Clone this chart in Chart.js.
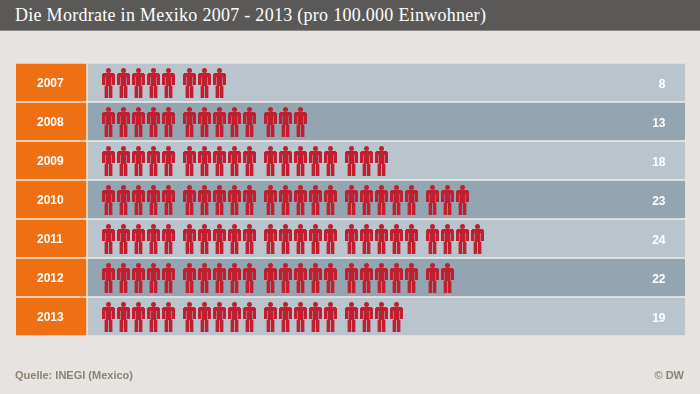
<!DOCTYPE html>
<html lang="de">
<head>
<meta charset="utf-8">
<title>Die Mordrate in Mexiko</title>
<script src="https://cdn.jsdelivr.net/npm/chart.js@4"></script>
<style>
    html, body { margin: 0; padding: 0; }
    body { position: relative; width: 700px; height: 394px; background: #e6e3e0; overflow: hidden; }
    #title {
        position: absolute; left: 0; top: 0; width: 685px; height: 30px; padding-left: 15px;
        background: #5a5957; border-bottom: 1px solid #8a8987; color: #fff;
        font: 18px/30px "Liberation Serif", serif; letter-spacing: 0.28px;
    }
    .note { position: absolute; top: 368px; font: bold 11px/14px "Liberation Sans", sans-serif; color: #8c8375; }
    canvas { position: absolute; left: 0; top: 0; }
</style>
</head>
<body>
<canvas id="chart" width="700" height="394"></canvas>
<div id="title">Die Mordrate in Mexiko 2007 - 2013 (pro 100.000 Einwohner)</div>
<div class="note" style="left:15px">Quelle: INEGI (Mexico)</div>
<div class="note" style="right:16px">© DW</div>
<script>
const years = ["2007", "2008", "2009", "2010", "2011", "2012", "2013"];
const murderRates = [8, 13, 18, 23, 24, 22, 19];

// x axis unit is one person, 15px wide
const xMin = -4.8;
const xMax = 39.8;
const firstPerson = 20.5 / 15;
const groupSize = 5;
const groupGap = 0.4;

const makePerson = () => {
    const c = document.createElement("canvas");
    c.width = 13;
    c.height = 31;
    const g = c.getContext("2d");
    g.fillStyle = "#c01f2f";
    g.beginPath();
    g.arc(6.5, 3.5, 2.5, 0, Math.PI * 2);
    g.fill();
    g.fillRect(1, 6, 11, 1);
    g.fillRect(0, 7, 13, 12);
    g.clearRect(3, 10, 1, 9);
    g.clearRect(9, 10, 1, 9);
    g.clearRect(0, 18, 3, 1);
    g.clearRect(10, 18, 3, 1);
    g.globalAlpha = 0.5;
    g.fillRect(3, 10, 1, 9);
    g.fillRect(9, 10, 1, 9);
    g.globalAlpha = 1;
    g.fillRect(2.6, 19, 3.4, 12);
    g.fillRect(7, 19, 3.4, 12);
    g.globalAlpha = 0.25;
    g.fillRect(6, 19, 1, 12);
    return c;
};

const people = [];
murderRates.forEach((rate, row) => {
    for (let i = 0; i < rate; i++) {
        people.push({ x: firstPerson + i + groupGap * Math.floor(i / groupSize), y: years[row] });
    }
});

const rowLabels = {
    id: "row-labels",
    beforeDatasetsDraw(chart) {
        const { ctx, chartArea: a } = chart;
        ctx.save();
        ctx.fillStyle = "#efedea";
        ctx.fillRect(a.left, a.top + 1, a.right - a.left, a.bottom - a.top - 2);
        ctx.restore();
    },
    afterDatasetsDraw(chart) {
        const { ctx, scales: { x, y } } = chart;
        ctx.save();
        ctx.fillStyle = "#fff";
        ctx.font = 'bold 12px "Liberation Sans", sans-serif';
        ctx.textAlign = "right";
        ctx.textBaseline = "middle";
        murderRates.forEach((rate, row) => {
            ctx.fillText(rate, x.getPixelForValue(38.5), y.getPixelForValue(row) + 2);
        });
        ctx.restore();
    },
};

new Chart(document.getElementById("chart"), {
    data: {
        labels: years,
        datasets: [
            {
                type: "scatter",
                data: people,
                pointStyle: makePerson(),
                order: 0,
            },
            {
                type: "bar",
                data: years.map(() => [xMin, -0.133]),
                backgroundColor: "#ee7013",
                barThickness: 37,
                grouped: false,
                order: 1,
            },
            {
                type: "bar",
                data: years.map(() => [0, xMax]),
                backgroundColor: years.map((_, i) => (i % 2 ? "#93a5b0" : "#b9c4cd")),
                barThickness: 37,
                grouped: false,
                order: 2,
            },
        ],
    },
    options: {
        indexAxis: "y",
        responsive: false,
        animation: false,
        layout: { padding: { left: 16, right: 15, top: 63, bottom: 58 } },
        plugins: { legend: { display: false }, tooltip: { enabled: false }, title: { display: false } },
        scales: {
            x: { type: "linear", min: xMin, max: xMax, display: false },
            y: {
                type: "category",
                grid: { display: false },
                border: { display: false },
                afterFit: (scale) => {
                    scale.width = 0;
                },
                ticks: {
                    mirror: true,
                    padding: 21,
                    labelOffset: 1,
                    z: 1,
                    color: "#fff",
                    font: { family: '"Liberation Sans", sans-serif', size: 12, weight: "bold" },
                },
            },
        },
    },
    plugins: [rowLabels],
});
</script>
</body>
</html>
